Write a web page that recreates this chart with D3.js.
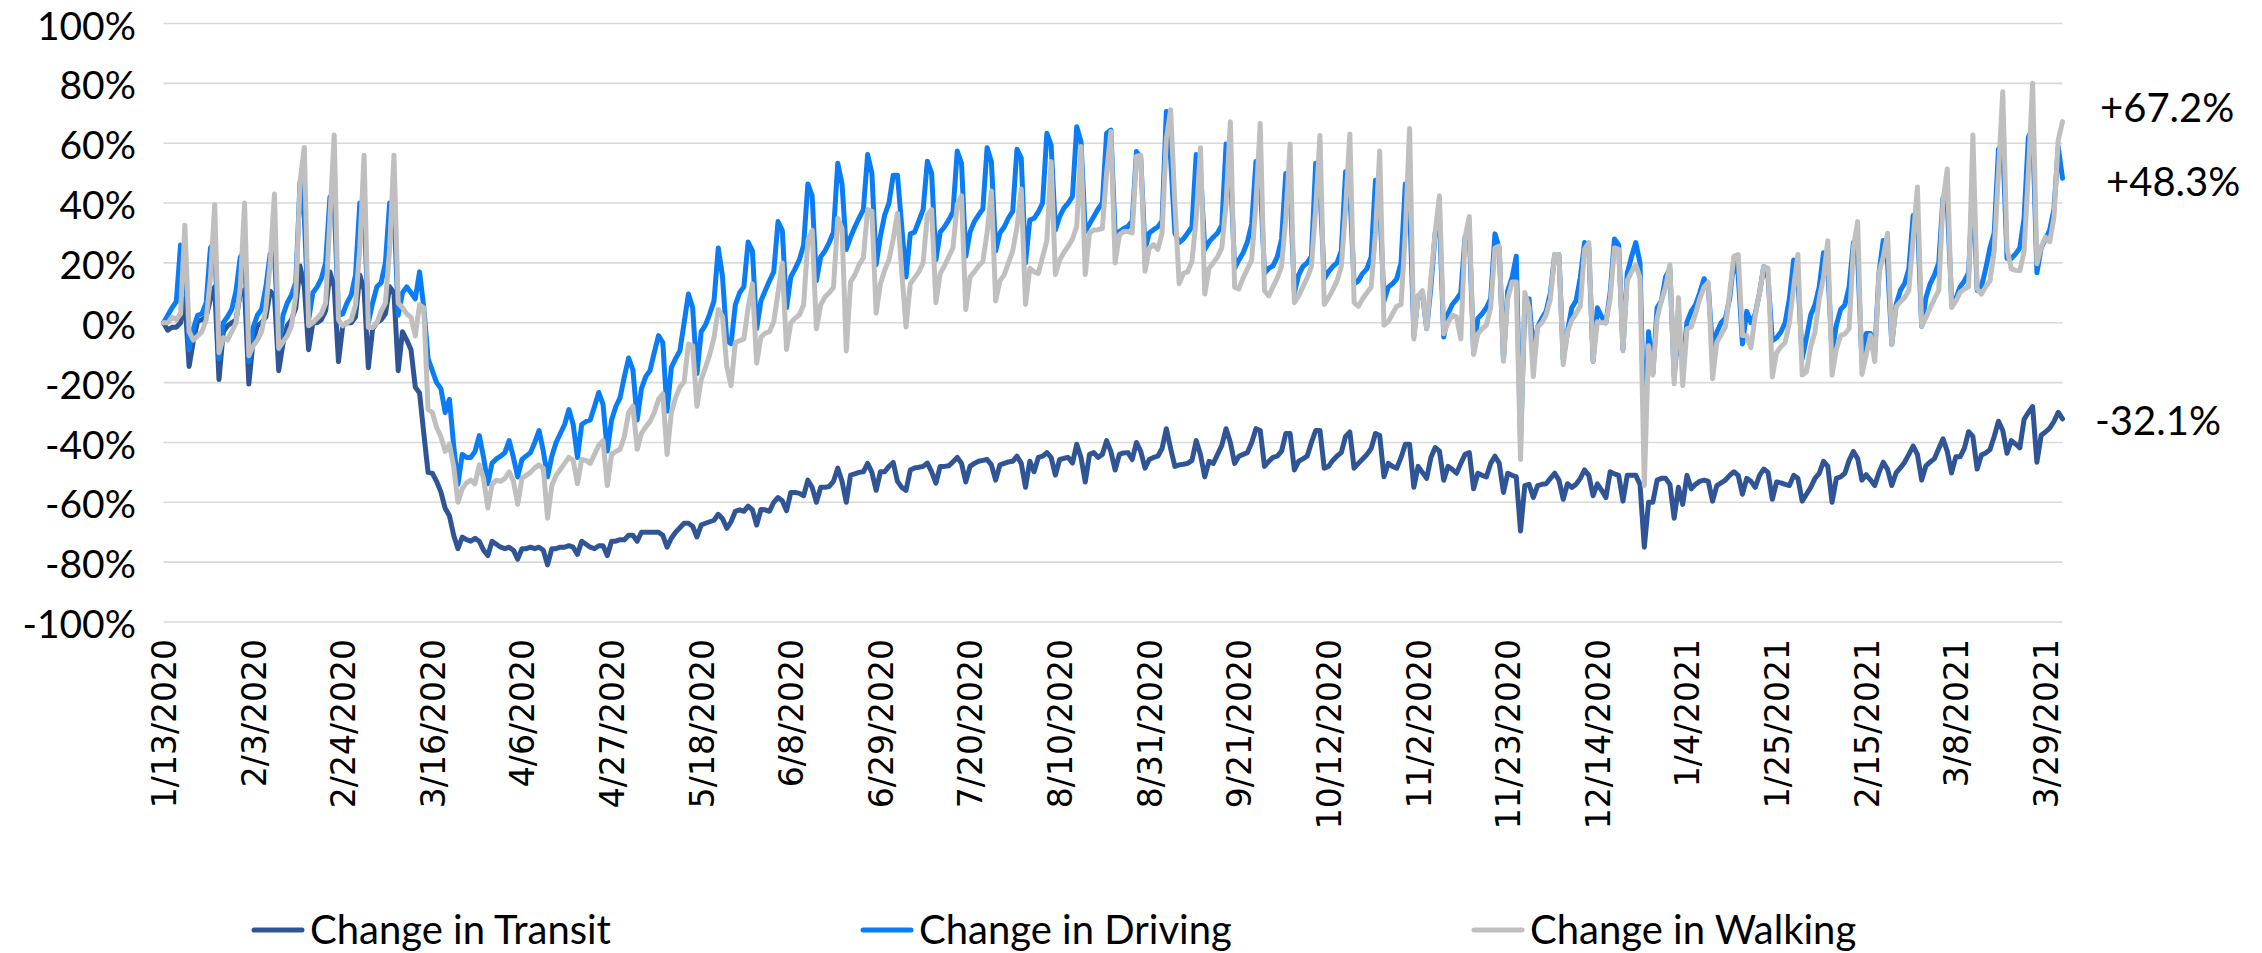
<!DOCTYPE html>
<html>
<head>
<meta charset="utf-8">
<script src="https://cdn.jsdelivr.net/npm/d3@7"></script>
<style>
  html, body { margin: 0; padding: 0; background: #ffffff; }
  svg { display: block; }
</style>
</head>
<body>
<svg id="chart" width="2262" height="953"></svg>
<script>
// Daily change vs. the 1/13/2020 baseline, in percent (one row per week, Mon..Sun).
const tickLabels = ["1/13/2020","2/3/2020","2/24/2020","3/16/2020","4/6/2020","4/27/2020",
  "5/18/2020","6/8/2020","6/29/2020","7/20/2020","8/10/2020","8/31/2020","9/21/2020",
  "10/12/2020","11/2/2020","11/23/2020","12/14/2020","1/4/2021","1/25/2021","2/15/2021",
  "3/8/2021","3/29/2021"];
const tickEvery = 21;
const yTicks = [-100, -80, -60, -40, -20, 0, 20, 40, 60, 80, 100];
const seriesNames = ["Change in Transit", "Change in Driving", "Change in Walking"];

const transit = [
  0, -2.5, -1.5, -1.5, 0, 8, -14.6,
  -6, 0.5, 1, 2, 8, 12, -19,
  -3, -1, 0, 1, 10, 11, -20.5,
  -6, -1, 0, 2, 10.5, 9, -16,
  -7, -1, 1, 5, 19, 12, -9,
  0, 0, 1, 4, 17, 12, -13,
  -1, 0, 0, 2, 16, 11, -15,
  -2, 0, 1, 3, 12, 10, -16,
  -3, -5.8, -9, -21.5, -23.5, -37, -50,
  -50.3, -53, -56.5, -62, -64.5, -71, -75.5,
  -71.6, -72.5, -73, -72, -73, -76, -77.8,
  -73, -74, -75, -75.5, -75, -76, -79,
  -75.5, -75.5, -75, -75.5, -75, -76, -80.9,
  -75.5, -75.5, -75, -75, -74.5, -75, -77.4,
  -73, -74, -75, -75.5, -74.5, -74.5, -77.8,
  -73, -73, -72.5, -72.5, -71, -71, -73,
  -70, -70, -70, -70, -70, -71, -75,
  -72, -70, -68.5, -67, -67, -68, -71.6,
  -67.6, -67, -66.5, -66, -64, -65.5, -68.7,
  -66.5, -63, -62.5, -63, -61.3, -62.5, -67.6,
  -62.4, -62.5, -63, -60, -58.4, -59.5, -62.8,
  -56.7, -56.7, -57, -57.8, -52.6, -55, -60,
  -55, -55, -54.7, -53, -48.6, -53, -60,
  -50.9, -50.5, -50, -49.8, -47, -50, -56,
  -49.8, -49.8, -48, -46.7, -53, -55, -56,
  -49.2, -48.5, -48.3, -48, -46.9, -49.8, -53.6,
  -48, -48, -47.8, -46.5, -45, -47, -53.2,
  -48, -47, -46.3, -46, -45.7, -47.5, -52.6,
  -47.5, -47, -46.5, -46.3, -44.6, -47, -55,
  -46.3, -49.8, -45, -44.6, -43.4, -45, -50.9,
  -45.7, -45.3, -45, -46.9, -40.6, -45, -53.2,
  -44, -43.4, -45, -44, -39.4, -43, -49.2,
  -44, -43.5, -43.4, -45.7, -40, -43, -48.6,
  -45.7, -45, -44.6, -42, -35.4, -42, -48,
  -47.5, -47.3, -47, -46, -39.4, -44, -51.5,
  -46.3, -47, -44, -41, -35.4, -40, -47,
  -44.6, -44, -43.4, -40, -35.4, -36, -48,
  -46.3, -45, -44.6, -42.9, -37, -37, -49.2,
  -46.3, -45.5, -44.6, -40, -36, -36, -48.6,
  -48, -46, -44.5, -43.4, -38, -36.5, -48.6,
  -47, -45.5, -44, -42, -37, -37.7, -51.5,
  -47, -48, -48.6, -45, -40.6, -40.6, -55,
  -48, -50, -52, -45, -41.7, -42.9, -52.6,
  -48, -49, -50.3, -47, -44, -43.4, -55.5,
  -50.3, -51, -51.5, -47, -44.6, -46.9, -56.7,
  -50.3, -51, -51.5, -69.6, -54.4, -54, -58.4,
  -54.4, -54, -53.8, -52, -50.3, -52.6, -59,
  -53.8, -55, -54, -52, -49.2, -51, -57.8,
  -53.8, -56, -58.4, -49.8, -50.5, -51, -59.6,
  -51, -51, -51, -54, -75, -60, -60,
  -52.6, -52, -52, -54, -65.3, -55, -60.7,
  -51, -55.5, -54, -53, -52.6, -53, -59.6,
  -54.4, -53.5, -52.6, -51, -49.8, -51, -57.3,
  -52, -53, -55, -51, -48.9, -50, -59,
  -53.2, -53.5, -54, -54.4, -51, -52, -59.6,
  -57.3, -55, -52, -50.3, -46.3, -48, -60,
  -52, -51.5, -50.3, -46, -43, -45.4, -52.6,
  -50.8, -52.5, -54.4, -50, -46.6, -49, -54.4,
  -50.2, -48.5, -46.6, -44, -41.2, -44, -52.6,
  -47.8, -46.5, -45.4, -42, -38.8, -43, -50.2,
  -44.8, -44.8, -42, -36.4, -38, -48.9,
  -44.2, -43.5, -42.4, -38, -32.9, -36, -43.6,
  -39.4, -40.5, -41.8, -32.3, -30, -28, -46.6,
  -37.6, -36.5, -35.2, -33, -29.9, -32.1
];

const driving = [
  0, 2.5, 5, 7, 26, 22, -9,
  -2, 2.5, 3, 6.6, 25, 27, -12,
  0, 2, 4.5, 10.7, 22, 24, -13,
  -1.6, 2.5, 4.5, 12, 23, 23.7, -9,
  2.5, 6.6, 9.3, 13.4, 47, 35, 1,
  10, 12, 14.8, 20, 42, 40, 2.5,
  3, 6.6, 9.3, 16, 40, 38, 0,
  6.6, 12, 13.4, 20, 40, 38, 2.5,
  10, 12, 10, 8, 17, 5, -12,
  -16, -20, -22, -30, -25.6, -41, -54,
  -44, -45, -45, -43, -37.7, -45, -53.8,
  -46.9, -45.5, -44.6, -43.4, -39.4, -45, -51.5,
  -45.7, -44.5, -43.4, -40, -36, -42.9, -51.5,
  -44.6, -40, -37, -34, -29, -34, -45,
  -34, -33, -32.5, -28, -23.3, -27.3, -42.9,
  -32.5, -28, -25, -18, -11.8, -15.8, -32.5,
  -22, -18, -16, -10, -4.3, -6.6, -29.6,
  -15, -12, -9.4, 0, 9.6, 5, -17,
  -3, -0.8, 3, 7.3, 25, 15.3, -6,
  -7, 6, 10, 12, 27, 24, -2,
  7.3, 10.7, 14, 17, 33.8, 30.9, 5,
  15.3, 18, 21, 26, 46.4, 42.4, 14,
  22, 24, 26.8, 30.3, 53.3, 46.4, 24.5,
  28.6, 32, 35, 37.8, 56.2, 49.9, 19.4,
  29, 36, 40, 49.3, 49.3, 32, 15.3,
  29.7, 30.3, 34, 37.8, 54, 49.9, 21,
  30.3, 32, 34.3, 37, 57.4, 53.3, 22.2,
  30.3, 33.8, 36, 38, 58.5, 53.9, 24,
  30, 32, 35, 37.2, 58, 55, 20,
  34.3, 34.9, 37, 40, 63.3, 59.4, 31,
  35.5, 38.3, 40, 42.2, 65.5, 60.5, 30.5,
  33, 35.5, 38, 40, 63.3, 64.4, 29.4,
  30.5, 31.5, 32.2, 34, 57.2, 55, 24.4,
  30, 31.1, 32, 34, 70.6, 55, 30,
  26.8, 28, 30, 32, 56.2, 51, 24.5,
  27, 28.6, 30, 32.6, 59.7, 52, 18.2,
  21, 23.4, 27, 33, 53.9, 48, 16.5,
  18.2, 19, 22, 28, 49.9, 45, 10,
  16, 18.8, 20, 22.2, 53.3, 45, 14.7,
  17, 18.8, 20, 24, 50.5, 44, 13,
  14, 16.5, 18, 22, 47.6, 40, 7.3,
  11.9, 13, 14.7, 20, 46.4, 40, -4.3,
  9, 10, -2, 12, 30, 35, -4.8,
  3, 6.1, 7.8, 10, 28.6, 30, -10,
  1.5, 3, 5, 8, 29.7, 25, -12.3,
  10.7, 15, 22.2, -40, 6, 8, -10,
  -1.4, 1.5, 3.8, 10, 22.8, 22.8, -12.3,
  -3, 5, 7.3, 15, 26.8, 25, -12.9,
  5, 2, 0, 10, 28, 26, -9,
  16.5, 22, 26.8, 20, -40, -3, -17,
  5, 7.3, 15.3, 18, -18, -2, -15,
  0.3, 3.8, 6, 10, 14.7, 12, -8.9,
  -3.1, 0, 1.5, 8, 21, 16, -7.1,
  3.8, 0, 3, 10, 18.8, 15, -6,
  -5, -3.1, 0, 8, 21, 15, -12,
  -5, 2.6, 6, 12, 23.4, 18, -10,
  -0.8, 4.4, 6, 12, 26.8, 22, -13,
  -3.6, -3.6, -10, 16.7, 27.5, 20, -7.2,
  6, 10.8, 13.1, 18, 35.8, 35, -1.2,
  8.4, 13.1, 16, 20, 41.8, 40, 8,
  8, 12, 14, 16.7, 48, 10.8,
  12, 18, 25, 30, 58, 60, 21.5,
  21.5, 23, 25, 35, 62, 65, 16.7,
  25, 28, 31, 38, 58.8, 48.3
];

const walking = [
  0, 0, 1.8, 1.1, 3, 32.6, -3,
  -5.8, -4.4, -3, 1, 15, 39.5, -10,
  -5, -5.8, -3, 0, 12, 40, -11,
  -7.8, -5.8, -3, 5, 20, 43, -8.5,
  -6.4, -4.4, -1, 9.3, 47, 58.6, -1,
  0, 1.5, 3, 6.6, 35, 62.7, 1,
  -1, 0, 1, 6, 25, 56, -1.6,
  -1.6, 0, 3.8, 6.6, 25, 56, 6.6,
  5, 3, 1.8, -4.4, 6, 5, -29,
  -30, -35, -38, -43, -40.6, -48, -60,
  -55.5, -53.5, -52.6, -53.8, -47.5, -52, -61.9,
  -54, -52.6, -53, -52, -49.8, -53, -60.7,
  -52, -51, -50, -48.5, -47.5, -48.6, -65.3,
  -54.4, -51, -49, -47, -45, -46, -53.8,
  -45.7, -46, -47, -44, -41, -39.4, -54.4,
  -44, -43, -42.3, -38, -30, -27.9, -42.3,
  -37, -34.8, -33, -30, -25.6, -23.8, -44,
  -30, -25, -21.5, -19.8, -7.1, -7.7, -27.9,
  -19, -15, -10.6, -5, 4.4, 2, -14.6,
  -21, -6.6, -6, -5.4, 5, 13, -13.5,
  -4.8, -3.5, -3, 0.3, 10, 20, -8.9,
  0, 1.5, 2.6, 6, 27.4, 30.9, -2,
  6, 8.6, 10, 11.9, 34.9, 31.5, -9.4,
  13.6, 16, 19.4, 21.7, 37.8, 37.2, 3.2,
  13, 17.6, 21, 28, 36.6, 17, -1.4,
  13, 15, 17, 20, 36, 37.8, 6.7,
  16.5, 19, 22, 25, 39.5, 42.4, 4.4,
  15.3, 17, 19, 20.5, 30, 44, 7.3,
  14, 16, 20, 24, 32, 44.7, 6.1,
  18.2, 17, 16.5, 22, 27.4, 53.9, 16.1,
  21, 23.5, 25.6, 28, 32.2, 58.9, 16.1,
  30, 31, 31.1, 31.5, 50, 63.9, 20,
  29.4, 30.5, 30.5, 30, 55.6, 56, 17.2,
  25, 26.1, 24.5, 30, 61.4, 71.2, 40,
  13, 16.5, 17, 20.5, 35, 58.5, 9.6,
  18.2, 20, 22, 25, 40, 67.2, 11.9,
  11.3, 15, 18, 21, 40, 66.6, 10.7,
  9, 12, 15, 18.8, 35, 59.7, 6.7,
  9, 12, 15, 18.8, 38, 62.6, 6.1,
  8.4, 11, 14, 18.8, 38, 63.1, 6.7,
  5.5, 8, 10, 11.9, 30, 57.4, -0.8,
  0.3, 3, 5.5, 6.1, 30, 64.9, -5.4,
  9, 10.7, -2, 15, 30.3, 42.4, -3.7,
  0, 2.6, 2, -5.4, 28.6, 35.5, -10.6,
  -3.7, -2, -0.8, 5, 25, 25.6, -12.9,
  8, 13.6, 13.6, -45.7, 10.1, 5, -18,
  -1.4, 0, 2.6, 8, 22.8, 22.8, -14,
  -3.1, 0.9, 3, 5.5, 24.5, 26.8, -12.9,
  0.3, 0, 0, 8, 25, 24.5, -9.4,
  14, 17, 19.4, 15, -54.4, -7.7, -17.5,
  1.5, 7.3, 12, 19.4, -20.4, 8.4, -21,
  -2, -1.4, 3, 8, 11.9, 13.6, -18.7,
  -6.6, -4, -1.4, 10, 22.2, 22.8, -4.3,
  -4.3, -8.3, 2.6, 10, 18.8, 18.2, -18.1,
  -10, -8, -6.6, 0, 11.9, 22.8, -17.5,
  -16.4, -8, -3, 8, 15.3, 27.4, -17.5,
  -8.9, -4.3, -3.7, -2, 25, 33.8, -17.3,
  -10.8, -4.2, -13, 16.7, 22, 29.9, -7.2,
  5.4, 7, 8.4, 10.8, 28, 45.4, -1.2,
  1.8, 5, 8, 10.8, 40.6, 51.4, 5.1,
  7.2, 10.2, 11.3, 12, 62.7, 11.3,
  9.6, 12, 14, 24, 50, 77.2, 24.7,
  18, 17.5, 17.4, 24, 50, 80, 19.7,
  25.3, 28.6, 27, 35.3, 61, 67.2
];

const colors = ["#2f5597", "#0a7cf5", "#bfbfbf"];
const series = [transit, driving, walking];

const svg = d3.select("#chart");
const plot = { left: 163.5, right: 2062.5, top: 23.5, bottom: 622 };
const n = transit.length;

const x = d3.scaleLinear().domain([0, n - 1]).range([plot.left, plot.right]);
const y = d3.scaleLinear().domain([-100, 100]).range([plot.bottom, plot.top]);

// horizontal gridlines
svg.append("g")
  .selectAll("line")
  .data(yTicks)
  .join("line")
  .attr("x1", plot.left).attr("x2", plot.right)
  .attr("y1", d => y(d)).attr("y2", d => y(d))
  .attr("stroke", "#d9d9d9")
  .attr("stroke-width", 1.6);

// y axis labels
const yAxis = d3.axisLeft(y).tickValues(yTicks).tickFormat(d => `${d}%`).tickSize(0).tickPadding(0);
const gy = svg.append("g").attr("transform", "translate(136,0)").call(yAxis);
gy.select(".domain").remove();
gy.selectAll("text")
  .attr("fill", "#000")
  .style("font-family", "Lato, 'Open Sans', sans-serif")
  .style("font-size", "39px")
  .attr("dy", "0.4em");

// x axis labels, rotated
const tickIdx = tickLabels.map((_, i) => i * tickEvery);
const xAxis = d3.axisBottom(x).tickValues(tickIdx).tickFormat((d, i) => tickLabels[i]).tickSize(0);
const gx = svg.append("g").attr("transform", "translate(0,639)").call(xAxis);
gx.select(".domain").remove();
gx.selectAll("text")
  .attr("fill", "#000")
  .style("font-family", "'DejaVu Sans', sans-serif")
  .style("font-size", "33px")
  .attr("text-anchor", "end")
  .attr("y", 0)
  .attr("x", 0)
  .attr("dy", "0.36em")
  .attr("transform", "rotate(-90)");

// series lines
const line = d3.line().x((d, i) => x(i)).y(d => y(d));
svg.append("g")
  .selectAll("path")
  .data(series)
  .join("path")
  .attr("d", d => line(d))
  .attr("fill", "none")
  .attr("stroke", (d, i) => colors[i])
  .attr("stroke-width", 5)
  .attr("stroke-linejoin", "round")
  .attr("stroke-linecap", "round");

// end-of-series value labels
const fmt = v => (v > 0 ? "+" : "") + v.toFixed(1) + "%";
const endLabels = [
  { v: transit[n - 1], dx: 2095, dy: 2.5 },
  { v: driving[n - 1], dx: 2106, dy: 3.5 },
  { v: walking[n - 1], dx: 2100, dy: -13.5 }
];
svg.append("g")
  .selectAll("text")
  .data(endLabels)
  .join("text")
  .attr("x", d => d.dx)
  .attr("y", d => y(d.v) + d.dy)
  .attr("dy", "0.35em")
  .attr("fill", "#000")
  .style("font-family", "Lato, 'Open Sans', sans-serif")
  .style("font-size", "40px")
  .text(d => fmt(d.v));

// legend
const legendItems = [
  { x: 252, name: seriesNames[0], color: colors[0] },
  { x: 861, name: seriesNames[1], color: colors[1] },
  { x: 1472, name: seriesNames[2], color: colors[2] }
];
const lg = svg.append("g").selectAll("g").data(legendItems).join("g")
  .attr("transform", d => `translate(${d.x},930)`);
lg.append("line")
  .attr("x1", 2).attr("x2", 50)
  .attr("y1", 0).attr("y2", 0)
  .attr("stroke", d => d.color)
  .attr("stroke-width", 5)
  .attr("stroke-linecap", "round");
lg.append("text")
  .attr("x", 58)
  .attr("y", 0)
  .attr("dy", "0.35em")
  .attr("fill", "#000")
  .style("font-family", "Lato, 'Open Sans', sans-serif")
  .style("font-size", "40px")
  .text(d => d.name);
</script>
</body>
</html>
